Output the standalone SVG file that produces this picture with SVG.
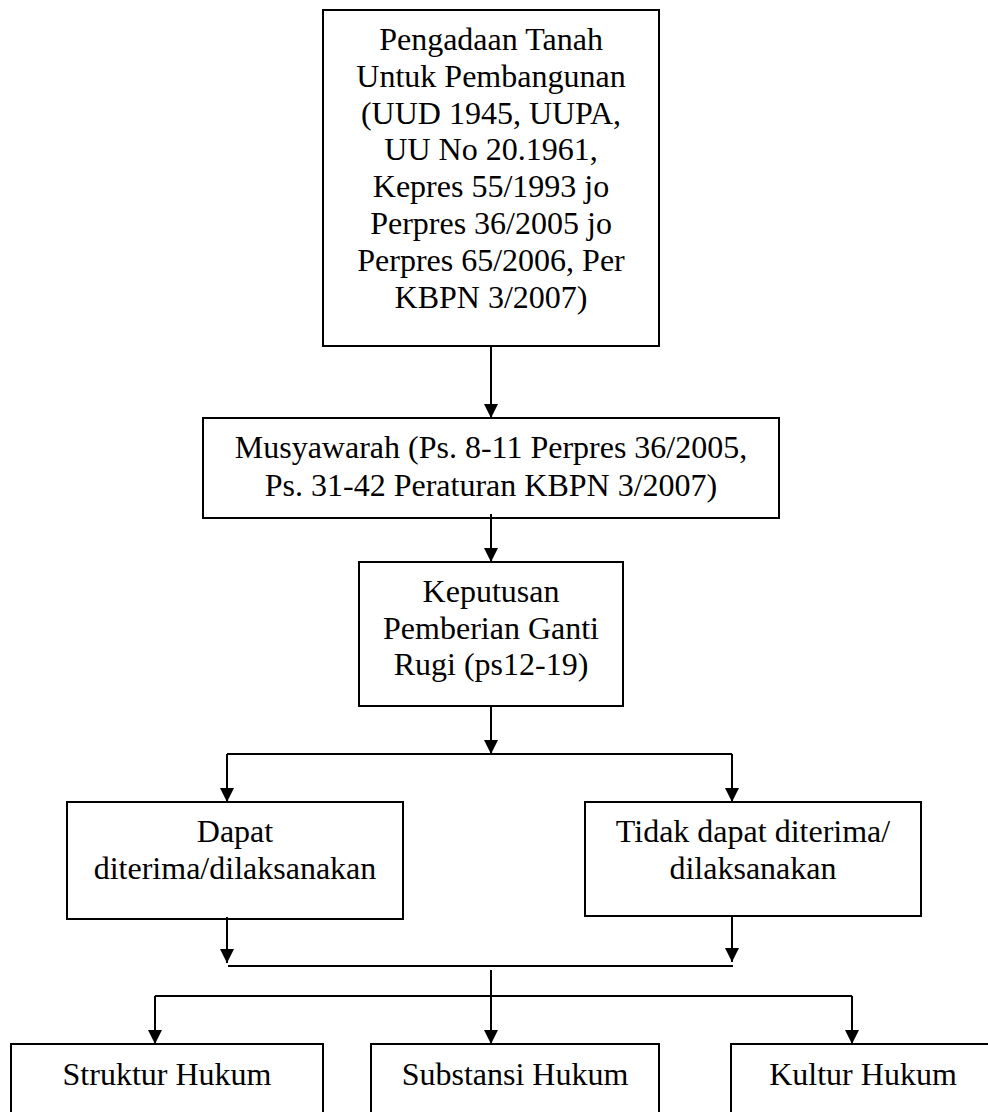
<svg xmlns="http://www.w3.org/2000/svg" width="988" height="1112" viewBox="0 0 988 1112">
<style>
.box{fill:#fff;stroke:#000;stroke-width:2}
.t{font-family:"Liberation Serif","Times New Roman",serif;font-size:32px;fill:#000;text-anchor:middle}
.c{stroke:#000;stroke-width:2;fill:none}
</style>
<defs>
<marker id="ah" markerUnits="userSpaceOnUse" markerWidth="14" markerHeight="15" refX="14" refY="7" orient="auto">
<path d="M0,0 L14,7 L0,14 z" fill="#000"/>
</marker>
</defs>
<rect width="988" height="1112" fill="#fff"/>
<g id="n-pengadaan">
<rect class="box" x="323" y="10" width="336" height="336"/>
<text class="t" x="491" y="50">Pengadaan Tanah</text>
<text class="t" x="491" y="86.8">Untuk Pembangunan</text>
<text class="t" x="491" y="123.6">(UUD 1945, UUPA,</text>
<text class="t" x="491" y="160.4">UU No 20.1961,</text>
<text class="t" x="491" y="197.2">Kepres 55/1993 jo</text>
<text class="t" x="491" y="234">Perpres 36/2005 jo</text>
<text class="t" x="491" y="270.8">Perpres 65/2006, Per</text>
<text class="t" x="491" y="307.6">KBPN 3/2007)</text>
</g>
<g id="n-musyawarah">
<rect class="box" x="203" y="418" width="576" height="100"/>
<text class="t" x="491" y="458">Musyawarah (Ps. 8-11 Perpres 36/2005,</text>
<text class="t" x="491" y="495.5">Ps. 31-42 Peraturan KBPN 3/2007)</text>
</g>
<g id="n-keputusan">
<rect class="box" x="359" y="562" width="264" height="144"/>
<text class="t" x="491" y="601.7">Keputusan</text>
<text class="t" x="491" y="638.5">Pemberian Ganti</text>
<text class="t" x="491" y="675.3">Rugi (ps12-19)</text>
</g>
<g id="n-dapat">
<rect class="box" x="67" y="802" width="336" height="117"/>
<text class="t" x="235" y="841.7">Dapat</text>
<text class="t" x="235" y="878.5">diterima/dilaksanakan</text>
</g>
<g id="n-tidak">
<rect class="box" x="585" y="802" width="336" height="114"/>
<text class="t" x="753" y="841.7">Tidak dapat diterima/</text>
<text class="t" x="753" y="878.5">dilaksanakan</text>
</g>
<g id="n-struktur">
<rect class="box" x="11" y="1044" width="312" height="80"/>
<text class="t" x="167" y="1085.3">Struktur Hukum</text>
</g>
<g id="n-substansi">
<rect class="box" x="371" y="1044" width="288" height="80"/>
<text class="t" x="515" y="1085.3">Substansi Hukum</text>
</g>
<g id="n-kultur">
<rect class="box" x="731" y="1044" width="264" height="80"/>
<text class="t" x="863" y="1085.3">Kultur Hukum</text>
</g>
<g id="connectors">
<line class="c" x1="491" y1="346" x2="491" y2="418" marker-end="url(#ah)"/>
<line class="c" x1="491" y1="514" x2="491" y2="562" marker-end="url(#ah)"/>
<line class="c" x1="491" y1="706" x2="491" y2="754" marker-end="url(#ah)"/>
<line class="c" x1="227" y1="754" x2="732" y2="754"/>
<line class="c" x1="227" y1="754" x2="227" y2="802" marker-end="url(#ah)"/>
<line class="c" x1="732" y1="754" x2="732" y2="802" marker-end="url(#ah)"/>
<line class="c" x1="227" y1="917" x2="227" y2="963" marker-end="url(#ah)"/>
<line class="c" x1="732" y1="915" x2="732" y2="962" marker-end="url(#ah)"/>
<line class="c" x1="228" y1="966" x2="733" y2="966"/>
<line class="c" x1="491" y1="970" x2="491" y2="1044" marker-end="url(#ah)"/>
<line class="c" x1="155" y1="996" x2="852" y2="996"/>
<line class="c" x1="155" y1="996" x2="155" y2="1044" marker-end="url(#ah)"/>
<line class="c" x1="852" y1="996" x2="852" y2="1044" marker-end="url(#ah)"/>
</g>
</svg>
